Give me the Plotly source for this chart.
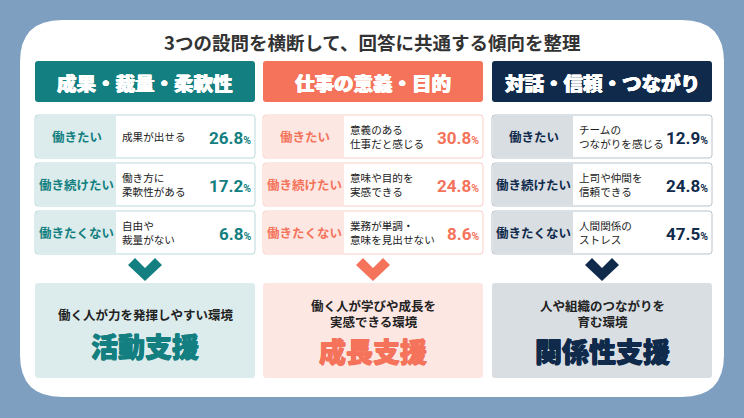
import plotly.graph_objects as go

# --- data ---
title = "3つの設問を横断して、回答に共通する傾向を整理"
themes = ["成果・裁量・柔軟性", "仕事の意義・目的", "対話・信頼・つながり"]
row_labels = ["働きたい", "働き続けたい", "働きたくない"]
reasons = [
    ["成果が出せる", "働き方に<br>柔軟性がある", "自由や<br>裁量がない"],
    ["意義のある<br>仕事だと感じる", "意味や目的を<br>実感できる", "業務が単調・<br>意味を見出せない"],
    ["チームの<br>つながりを感じる", "上司や仲間を<br>信頼できる", "人間関係の<br>ストレス"],
]
shares = [
    [26.8, 17.2, 6.8],
    [30.8, 24.8, 8.6],
    [12.9, 24.8, 47.5],
]
env_text = ["働く人が力を発揮しやすい環境", "働く人が学びや成長を<br>実感できる環境", "人や組織のつながりを<br>育む環境"]
support = ["活動支援", "成長支援", "関係性支援"]

# --- style ---
main = ["#137f80", "#f4735a", "#0f2a4a"]
tint = ["#dcecec", "#fde7e3", "#d9dee3"]
edge = ["#b9dada", "#fbcfc6", "#b9c3cd"]
BG = "#7e9fc0"
JP = "Noto Sans CJK JP"
W, H = 744, 418

col_x = [35, 263, 492]
col_w = 220
lab_w = 81
row_y = [115, 163, 211]
row_h = 43


def rrect(x0, y0, x1, y1, r):
    return (f"M{x0+r},{y0} L{x1-r},{y0} Q{x1},{y0} {x1},{y0+r} "
            f"L{x1},{y1-r} Q{x1},{y1} {x1-r},{y1} L{x0+r},{y1} "
            f"Q{x0},{y1} {x0},{y1-r} L{x0},{y0+r} Q{x0},{y0} {x0+r},{y0} Z")


def lines(txt, x, yc, step, **kw):
    # one annotation per line so the text boxes stay tight
    parts = txt.split("<br>")
    out = []
    for i, p in enumerate(parts):
        y = yc + (i - (len(parts) - 1) / 2) * step
        out.append(dict(x=x, y=y, text=p, showarrow=False, borderpad=0, **kw))
    return out


def heavy(col, d=0.5):
    # fake a black weight with a thin text shadow
    return f"{d}px 0 0 {col}, -{d}px 0 0 {col}, 0 {d}px 0 {col}"


shapes = []
ann = []

# card
shapes.append(dict(type="path", path=rrect(20, 20, 724, 397, 42),
                   fillcolor="white", line=dict(width=0), layer="below"))
ann.append(dict(x=372, y=42, text=title, showarrow=False,
                font=dict(family=JP, size=18.5, color="#333333", weight=700)))

for c in range(3):
    x0 = col_x[c]
    x1 = x0 + col_w
    cx = x0 + col_w / 2
    # header
    shapes.append(dict(type="path", path=rrect(x0, 61, x1, 102, 3),
                       fillcolor=main[c], line=dict(width=0)))
    ann.append(dict(x=cx, y=82, text=themes[c], showarrow=False,
                    font=dict(family=JP, size=19.5, color="white", weight=900,
                              shadow=heavy("white", 0.4))))
    # rows
    for r in range(3):
        y0 = row_y[r]
        y1 = y0 + row_h
        ym = (y0 + y1) / 2
        shapes.append(dict(type="path", path=rrect(x0, y0, x1, y1, 3),
                           fillcolor="white", line=dict(width=1, color=edge[c])))
        shapes.append(dict(type="rect", x0=x0 + 1, x1=x0 + lab_w, y0=y0 + 1, y1=y1 - 1,
                           fillcolor=tint[c], line=dict(width=0)))
        ann.append(dict(x=x0 + 1 + lab_w / 2, y=ym, text=row_labels[r], showarrow=False,
                        borderpad=0,
                        font=dict(family=JP, size=12.5, color=main[c], weight=700)))
        ann.extend(lines(reasons[c][r], x0 + 86, ym, 14.5, xanchor="left",
                         font=dict(family=JP, size=10.6, color="#222222")))
        ann.append(dict(x=x1 - 3, y=ym + 1, xanchor="right", showarrow=False, borderpad=0,
                        text=f"{shares[c][r]:.1f}<span style='font-size:10.5px'>%</span>",
                        font=dict(family="Roboto, " + JP, size=17, color=main[c], weight=700)))
    # chevron
    shapes.append(dict(type="path",
                       path=f"M{cx-17},{265} L{cx-10},{258} L{cx},{268} L{cx+10},{258} "
                            f"L{cx+17},{265} L{cx},{281} Z",
                       fillcolor=main[c], line=dict(width=0)))
    # bottom box
    shapes.append(dict(type="path", path=rrect(x0, 283, x1, 378, 3),
                       fillcolor=tint[c], line=dict(width=0)))
    two = "<br>" in env_text[c]
    ann.append(dict(x=cx, y=313 if two else 314, text=env_text[c], showarrow=False,
                    borderpad=0,
                    font=dict(family=JP, size=12.5, color="#222222", weight=700)))
    ann.append(dict(x=cx, y=350 if two else 345, text=support[c], showarrow=False,
                    borderpad=0,
                    font=dict(family=JP, size=27, color=main[c], weight=900,
                              shadow=heavy(main[c], 0.6))))

fig = go.Figure()
fig.update_layout(
    width=W, height=H,
    margin=dict(l=0, r=0, t=0, b=0),
    paper_bgcolor=BG, plot_bgcolor=BG,
    xaxis=dict(range=[0, W], visible=False, fixedrange=True),
    yaxis=dict(range=[H, 0], visible=False, fixedrange=True),
    shapes=shapes, annotations=ann, showlegend=False,
)
fig.write_html("out.html", config={"displayModeBar": False},
               post_script="document.body.style.margin='0';document.body.style.overflow='hidden';")
